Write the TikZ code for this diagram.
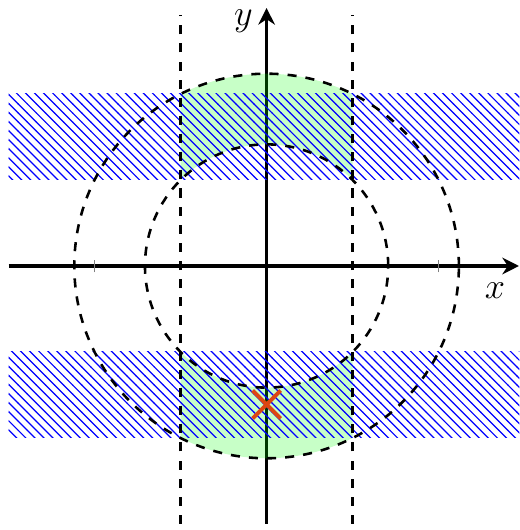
\documentclass[tikz,border=0pt]{standalone}
\usetikzlibrary{patterns,arrows.meta,shapes.misc}
\definecolor{crosscol}{RGB}{220,70,20}
\begin{document}
\begin{tikzpicture}[x=1cm,y=1cm,
  axis/.style={line width=1.25pt,-{Stealth[length=5.5pt,width=5.5pt]}},
  band/.style={pattern=north west lines,pattern color=blue},
  greenreg/.style={fill=green,fill opacity=0.22},
  guide/.style={dashed,line width=0.85pt},
  tick/.style={gray,line width=0.3pt}]
\useasboundingbox (-3.1,-3.07) rectangle (2.94,3.093);
% axes
\coordinate (xl) at (-3,0);
\coordinate (xr) at (2.935,0);
\coordinate (yb) at (0,-3);
\coordinate (yt) at (0,3);
\draw[axis] (xl) -- (xr);
\draw[axis] (yb) -- (yt);
\node[anchor=north east,inner sep=2pt] (xlab) at (2.85,-0.12) {\large$x$};
\node[anchor=east,inner sep=1pt] (ylab) at (-0.12,2.85) {\large$y$};
\coordinate (t1a) at (-2,-0.075); \coordinate (t1b) at (-2,0.075);
\coordinate (t2a) at (2,-0.075); \coordinate (t2b) at (2,0.075);
\draw[tick] (t1a) -- (t1b);
\draw[tick] (t2a) -- (t2b);
% green regions
\fill[greenreg] (63.435:2.2361) arc[start angle=63.435,end angle=116.565,radius=2.2361]
  -- (135:1.4142) arc[start angle=135,end angle=45,radius=1.4142] -- cycle;
\fill[greenreg] (-63.435:2.2361) arc[start angle=-63.435,end angle=-116.565,radius=2.2361]
  -- (-135:1.4142) arc[start angle=-135,end angle=-45,radius=1.4142] -- cycle;
% hatched bands
\fill[band] (-3,1) rectangle (2.94,2);
\fill[band] (-3,-2) rectangle (2.94,-1);
% circles
\coordinate (o) at (0,0);
\draw[guide] (o) circle[radius=1.4142];
\draw[guide] (o) circle[radius=2.2361];
% vertical lines
\coordinate (v1b) at (-1,-3); \coordinate (v1t) at (-1,2.92);
\coordinate (v2b) at (1,-3); \coordinate (v2t) at (1,2.92);
\draw[guide] (v1b) -- (v1t);
\draw[guide] (v2b) -- (v2t);
% cross
\node[cross out,draw=crosscol,line width=1.3pt,minimum size=0.28cm,inner sep=0pt] (p) at (0,-1.61) {};
\end{tikzpicture}
\end{document}
